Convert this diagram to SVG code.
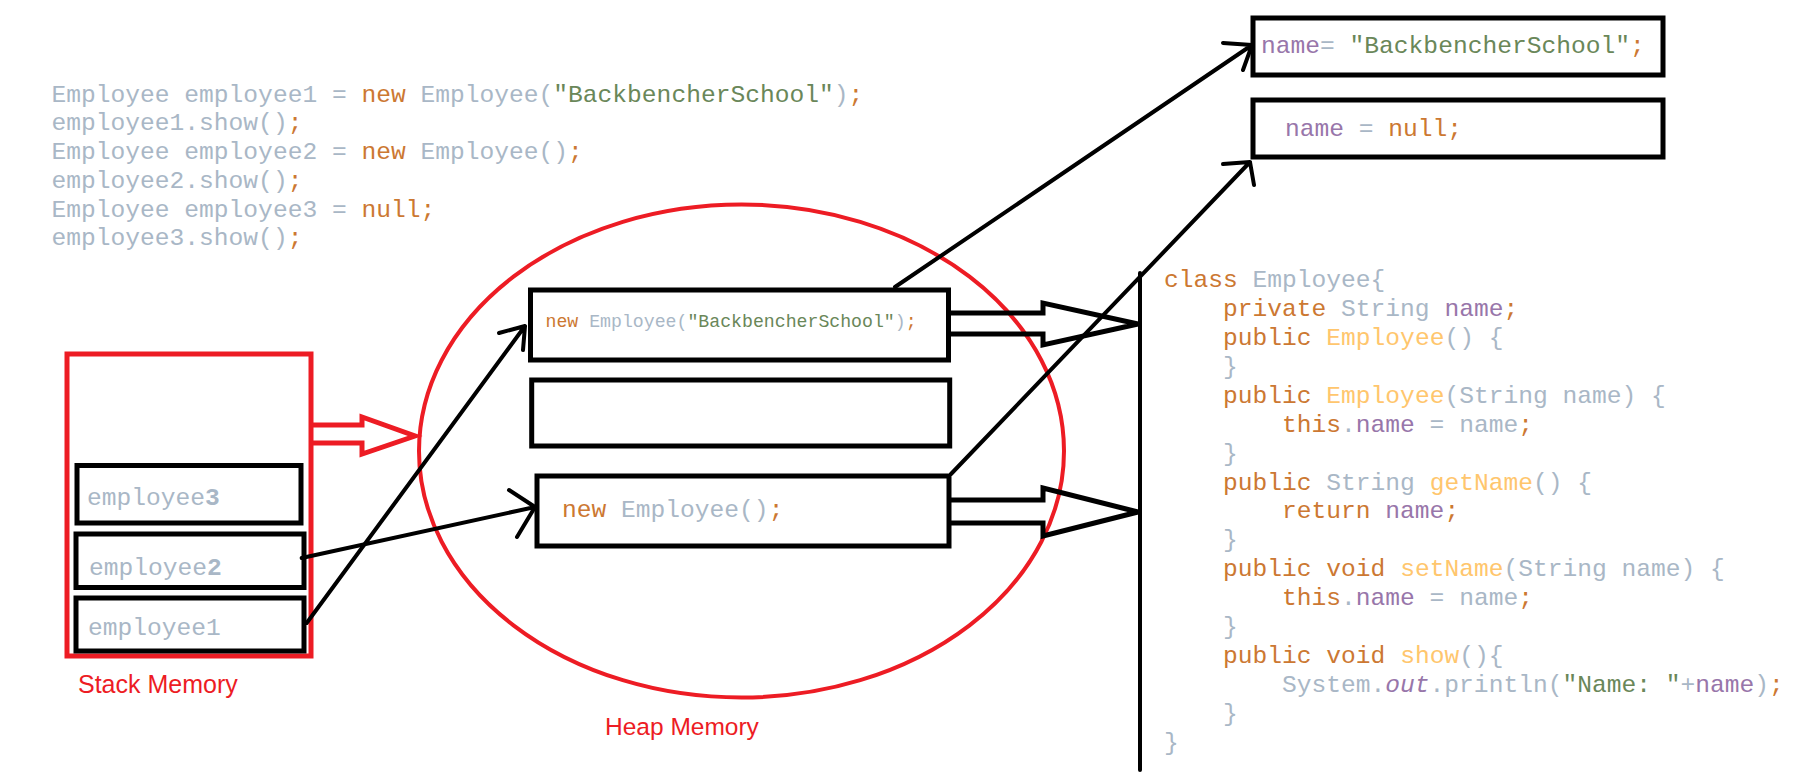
<svg xmlns="http://www.w3.org/2000/svg" width="1815" height="779" viewBox="0 0 1815 779">
<style>
.code{font-family:"Liberation Mono","Courier New",monospace;font-size:24.6px;white-space:pre;fill:#A9B7C6}
.small{font-size:18.2px}
.k{fill:#CC7832}.s{fill:#6A8759}.f{fill:#9876AA}.m{fill:#FFC66D}
.box{fill:none;stroke:#000;stroke-width:5}
.line{stroke:#000;stroke-width:4;fill:none;stroke-linecap:round;stroke-linejoin:round}
.hollow{stroke:#000;stroke-width:5;fill:none;stroke-linejoin:miter}
.red{stroke:#ED1C24;fill:none;stroke-width:5}
.label{font-family:"Liberation Sans",Arial,sans-serif;font-size:25px;fill:#ED1C24}
</style>
<rect width="1815" height="779" fill="#fff"/>

<g id="main-code" class="code">
<text x="51.5" y="101.7">Employee employee1 = <tspan class="k">new</tspan> Employee(<tspan class="s">"BackbencherSchool"</tspan>)<tspan class="k">;</tspan></text>
<text x="51.5" y="130.4">employee1.show()<tspan class="k">;</tspan></text>
<text x="51.5" y="159.1">Employee employee2 = <tspan class="k">new</tspan> Employee()<tspan class="k">;</tspan></text>
<text x="51.5" y="187.8">employee2.show()<tspan class="k">;</tspan></text>
<text x="51.5" y="216.5">Employee employee3 = <tspan class="k">null;</tspan></text>
<text x="51.5" y="245.2">employee3.show()<tspan class="k">;</tspan></text>
</g>

<g id="field-assigned">
<rect class="box" x="1253" y="18" width="410" height="57"/>
<text class="code" x="1261" y="53"><tspan class="f">name</tspan>= <tspan class="s">"BackbencherSchool"</tspan><tspan class="k">;</tspan></text>
</g>
<g id="field-null">
<rect class="box" x="1253" y="100" width="410" height="57"/>
<text class="code" x="1285" y="136"><tspan class="f">name</tspan> = <tspan class="k">null;</tspan></text>
</g>

<g id="stack-memory">
<rect class="red" x="67" y="354" width="244" height="302"/>
<text class="label" x="78" y="692.7">Stack Memory</text>
</g>
<g id="employee3">
<rect class="box" x="77" y="465.5" width="224" height="57.5"/>
<text class="code" x="87" y="505">employee<tspan font-weight="bold">3</tspan></text>
</g>
<g id="employee2">
<rect class="box" x="76" y="534" width="228" height="53.5"/>
<text class="code" x="89" y="575">employee<tspan font-weight="bold">2</tspan></text>
</g>
<g id="employee1">
<rect class="box" x="76" y="598" width="228" height="53"/>
<text class="code" x="88" y="635">employee1</text>
</g>

<g id="heap-memory">
<ellipse class="red" cx="741.5" cy="451" rx="322.5" ry="246.5" style="stroke-width:4"/>
<text class="label" x="605" y="735" style="font-size:24.5px">Heap Memory</text>
</g>
<g id="object1">
<rect class="box" x="530.5" y="290" width="418" height="70"/>
<text class="code small" x="545.5" y="326.5"><tspan class="k">new</tspan> Employee(<tspan class="s">"BackbencherSchool"</tspan>)<tspan class="k">;</tspan></text>
</g>
<g id="object-empty">
<rect class="box" x="531.7" y="380" width="418" height="66"/>
</g>
<g id="object2">
<rect class="box" x="537" y="476" width="412" height="70"/>
<text class="code" x="562" y="516.7"><tspan class="k">new</tspan> Employee()<tspan class="k">;</tspan></text>
</g>

<g id="class-employee" class="code">
<text x="1164" y="287"><tspan class="k">class</tspan> Employee{</text>
<text x="1223" y="315.9"><tspan class="k">private</tspan> String <tspan class="f">name</tspan><tspan class="k">;</tspan></text>
<text x="1223" y="344.9"><tspan class="k">public</tspan> <tspan class="m">Employee</tspan>() {</text>
<text x="1223" y="373.8">}</text>
<text x="1223" y="402.7"><tspan class="k">public</tspan> <tspan class="m">Employee</tspan>(String name) {</text>
<text x="1282" y="431.7"><tspan class="k">this</tspan>.<tspan class="f">name</tspan> = name<tspan class="k">;</tspan></text>
<text x="1223" y="460.6">}</text>
<text x="1223" y="489.5"><tspan class="k">public</tspan> String <tspan class="m">getName</tspan>() {</text>
<text x="1282" y="518.4"><tspan class="k">return</tspan> <tspan class="f">name</tspan><tspan class="k">;</tspan></text>
<text x="1223" y="547.4">}</text>
<text x="1223" y="576.3"><tspan class="k">public void</tspan> <tspan class="m">setName</tspan>(String name) {</text>
<text x="1282" y="605.2"><tspan class="k">this</tspan>.<tspan class="f">name</tspan> = name<tspan class="k">;</tspan></text>
<text x="1223" y="634.2">}</text>
<text x="1223" y="663.1"><tspan class="k">public void</tspan> <tspan class="m">show</tspan>(){</text>
<text x="1282" y="692">System.<tspan class="f" font-style="italic">out</tspan>.println(<tspan class="s">"Name: "</tspan>+<tspan class="f">name</tspan>)<tspan class="k">;</tspan></text>
<text x="1223" y="720.9">}</text>
<text x="1164" y="749.9">}</text>
</g>

<g id="connectors">
<path class="red" d="M313,425 H362 V417 L415,436 L362,454 V443 H313"/>
<path class="hollow" d="M951,313 H1043 V303 L1138,324 L1043,345 V334 H951"/>
<path class="hollow" d="M949,500 H1043 V488 L1138,512 L1043,536 V523 H949"/>
<line class="line" x1="1140" y1="273" x2="1140" y2="770"/>
<path class="line" d="M306.7,623 L525,326 M499,333 L525,326 L523,350"/>
<path class="line" d="M301.7,558 L535,507 M509,490 L535,507 L517,537"/>
<path class="line" d="M895,287 L1252,45 M1223,43 L1252,45 L1243,70"/>
<path class="line" d="M951,474 L1250,162 M1223,164 L1250,162 L1254,185"/>
</g>
</svg>
